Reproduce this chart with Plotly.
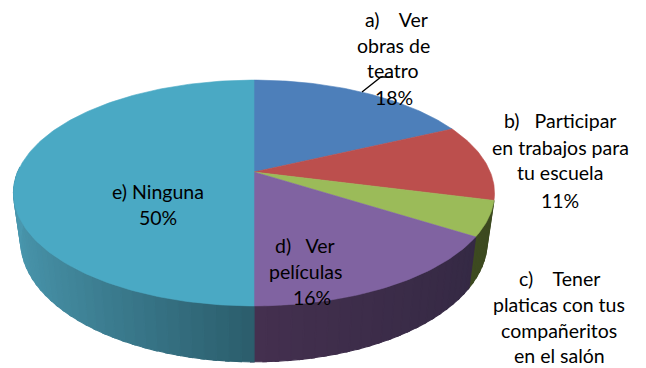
import numpy as np
import plotly.graph_objects as go

# Data
categories = ["a) Ver obras de teatro", "b) Participar en trabajos para tu escuela",
              "c) Tener platicas con tus compañeritos en el salón", "d) Ver películas", "e) Ninguna"]
values = [18, 11, 5, 16, 50]
top_colors = ["#4d7fba", "#bc4f4d", "#9bbb59", "#8063a1", "#4aa9c4"]
# wall colours: (at the front centre, at the far side)
wall_colors = [None, None, ((61, 74, 32), (61, 74, 32)), ((68, 48, 79), (50, 40, 66)),
               ((43, 93, 108), (74, 152, 175))]

# label text, one entry per line, with the centre of each line
label_lines = [
    ("a)    Ver", 396, 19), ("obras de", 393, 45), ("teatro", 393, 70), ("18%", 394, 97),
    ("b)   Participar", 560, 120), ("en trabajos para", 560, 147), ("tu escuela", 560, 172), ("11%", 560, 200),
    ("c)    Tener", 559, 278), ("platicas con tus", 559, 304), ("compañeritos", 559, 330), ("en el salón", 559, 355.5),
    ("d)   Ver", 305, 245), ("películas", 305, 271), ("16%", 312, 297),
    ("e) Ninguna", 158, 191), ("50%", 158, 217),
]
leader_x = [362, 381, 393]
leader_y = [92, 77, 77]

# Perspective model of the disc
CX, CY, RX, RY, K = 254.0, 172.0, 236.3, 109.0, 0.186
SX, SY, DY = 0.97, 1.07, 46.5


def top(theta):
    u, v = np.sin(theta), -np.cos(theta)
    d = 1 - K * v
    return CX + RX * u / d, CY + RY * v / d


def bottom(theta):
    x, y = top(theta)
    return CX + (x - CX) * SX, CY + DY + (y - CY) * SY


fractions = np.array(values) / sum(values)
edges = np.concatenate([[0], np.cumsum(fractions)]) * 2 * np.pi

fig = go.Figure()


def poly(xs, ys, color, width=0.6):
    fig.add_trace(go.Scatter(x=xs, y=ys, mode="lines", fill="toself", fillcolor=color,
                             line=dict(color=color, width=width), hoverinfo="skip", showlegend=False))


# side walls
for i, stops in enumerate(wall_colors):
    if stops is None:
        continue
    start, end = edges[i], edges[i + 1]
    lo, hi = max(start, np.radians(96)), min(end, np.radians(272))
    n = max(2, int(np.degrees(hi - lo) / 2.5))
    g = np.linspace(lo, hi, n + 1)
    for a, b in zip(g[:-1], g[1:]):
        t = min(1.0, abs(np.sin((a + b) / 2)))
        c = [round(s0 + (s1 - s0) * t) for s0, s1 in zip(*stops)]
        ga = np.array([a, b + 0.012])
        tx, ty = top(ga)
        bx, by = bottom(ga)
        poly(list(tx) + list(bx[::-1]) + [tx[0]], list(ty) + list(by[::-1]) + [ty[0]],
             "rgb(%d,%d,%d)" % tuple(c), 1.2)

# top face
for i, col in enumerate(top_colors):
    g = np.linspace(edges[i], edges[i + 1], max(3, int(np.degrees(edges[i + 1] - edges[i]))))
    tx, ty = top(g)
    poly([CX] + list(tx) + [CX], [CY] + list(ty) + [CY], col)

# leader line
fig.add_trace(go.Scatter(x=leader_x, y=leader_y, mode="lines", line=dict(color="black", width=1.3),
                         hoverinfo="skip", showlegend=False))

annotations = [dict(x=x, y=y, text=t, showarrow=False, xanchor="center", yanchor="middle",
                    font=dict(family="Lato", size=19.5, color="#000000"))
               for t, x, y in label_lines]

fig.update_layout(width=646, height=368, margin=dict(l=0, r=0, t=0, b=0),
                  paper_bgcolor="white", plot_bgcolor="white", showlegend=False,
                  xaxis=dict(range=[0, 646], visible=False, fixedrange=True),
                  yaxis=dict(range=[368, 0], visible=False, fixedrange=True),
                  annotations=annotations)
fig.write_html("out.html", config={"displayModeBar": False},
               post_script="document.body.style.margin='0';document.documentElement.style.overflow='hidden';")
